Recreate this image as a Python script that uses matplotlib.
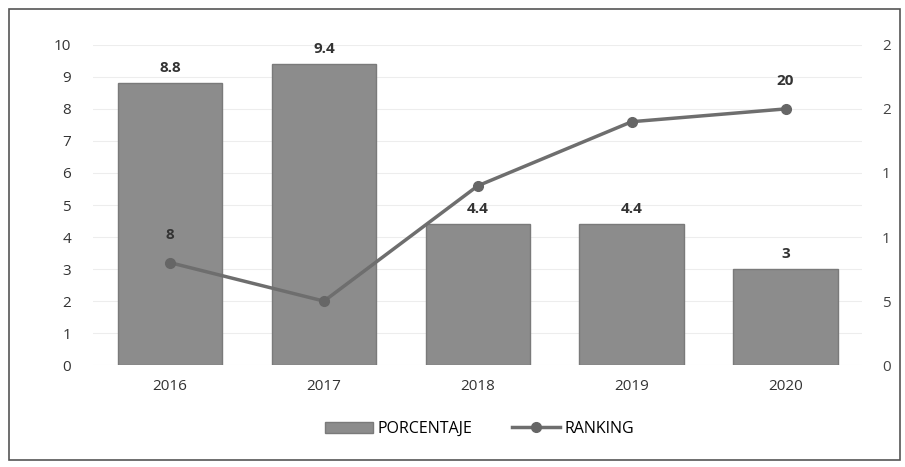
import matplotlib
matplotlib.use("Agg")
import matplotlib.pyplot as plt
from matplotlib.patches import Rectangle

years = ["2016", "2017", "2018", "2019", "2020"]
porcentaje = [8.8, 9.4, 4.4, 4.4, 3]
ranking = [8, 5, 14, 19, 20]
ranking_labels = ["8", "", "", "", "20"]
left_ticks = list(range(0, 11))
right_ticks = [0, 5, 10, 15, 20, 25]
right_tick_labels = ["0", "5", "1", "1", "2", "2"]

plt.rcParams['font.family'] = ['Open Sans', 'DejaVu Sans']

fig = plt.figure(figsize=(9.05, 4.67), dpi=100)
fig.patch.set_facecolor("white")
fig.patches.append(Rectangle((0.01, 0.015), 0.985, 0.965, transform=fig.transFigure,
                             fill=False, edgecolor="#555555", linewidth=1.2))

ax = fig.add_axes([0.103, 0.218, 0.85, 0.686])
x = range(len(years))
bars = ax.bar(x, porcentaje, width=0.68, color="#8c8c8c", edgecolor="#7a7a7a", zorder=2,
              label="PORCENTAJE")
ax.set_ylim(0, 10)
ax.set_xlim(-0.5, len(years) - 0.5)
ax.set_yticks(left_ticks)
ax.set_xticks(list(x))
ax.set_xticklabels(years)
ax.grid(axis="y", color="#ededed", linewidth=0.8, zorder=0)
for s in ax.spines.values():
    s.set_visible(False)
ax.tick_params(length=0, labelsize=11, colors="#333333")
ax.tick_params(axis="y", pad=16)
ax.tick_params(axis="x", pad=10)
for xi, v in zip(x, porcentaje):
    ax.text(xi, v + 0.25, f"{v:g}", ha="center", va="bottom", fontsize=11,
            fontweight="bold", color="#333333")

ax2 = ax.twinx()
ax2.plot(list(x), ranking, color="#6e6e6e", linewidth=2.5, marker="o", markersize=7,
         markerfacecolor="#666666", markeredgecolor="#666666", zorder=3, label="RANKING")
ax2.set_ylim(0, 25)
ax2.set_yticks(right_ticks)
ax2.set_yticklabels(right_tick_labels)
for s in ax2.spines.values():
    s.set_visible(False)
ax2.tick_params(length=0, labelsize=11, colors="#444444", pad=14)
for xi, v, lab in zip(x, ranking, ranking_labels):
    if lab:
        ax2.text(xi, v + 1.6, lab, ha="center", va="bottom", fontsize=11,
                 fontweight="bold", color="#333333")

h1, l1 = ax.get_legend_handles_labels()
h2, l2 = ax2.get_legend_handles_labels()
fig.legend(h1 + h2, l1 + l2, loc="center", bbox_to_anchor=(0.53, 0.082), ncol=2,
           frameon=False, fontsize=11.5, handlelength=3, columnspacing=2.5,
           handletextpad=0.3)

fig.savefig("out.png", dpi=100)
